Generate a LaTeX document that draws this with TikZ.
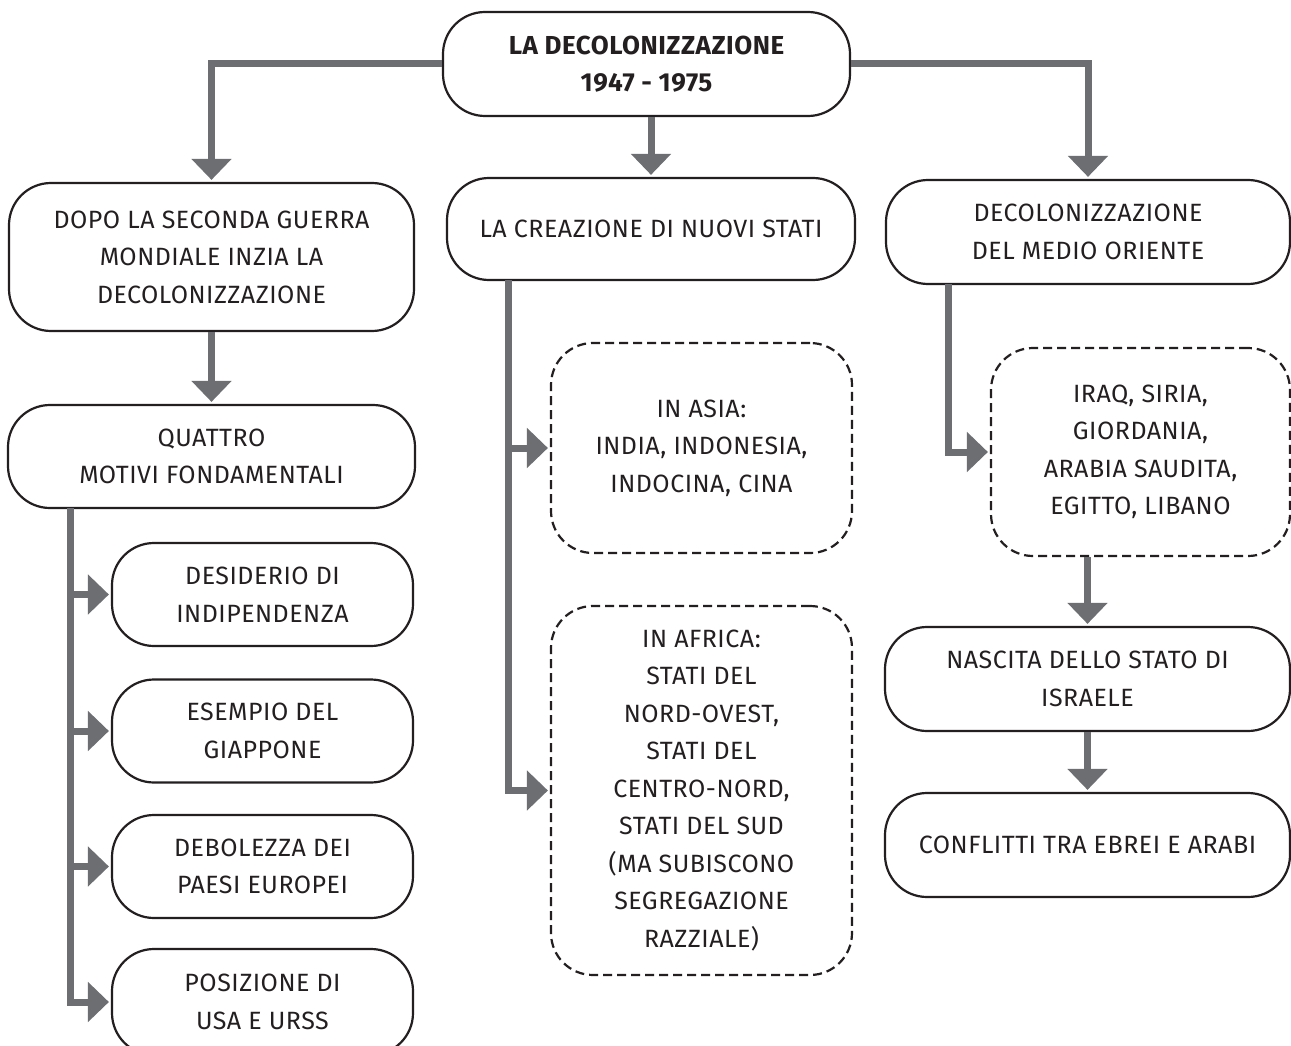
\documentclass[tikz,border=0pt]{standalone}
\usepackage{fontspec}
\setmainfont[LetterSpace=2]{Fira Sans}
\usetikzlibrary{arrows.meta}
\definecolor{arrowgray}{HTML}{6D6E71}
\definecolor{ink}{HTML}{231F20}
\tikzset{
  box/.style={draw=ink, line width=2.2pt, rounded corners=42pt, align=center,
    text=ink, inner sep=0pt, font=\fontsize{25}{37.5}\selectfont},
  dbox/.style={box, dash pattern=on 9pt off 5pt},
  conn/.style={draw=arrowgray, line width=7pt, line join=miter,
    -{Triangle[width=39pt,length=21pt]}, shorten >=2pt}
}
\begin{document}
\begin{tikzpicture}[x=1pt,y=-1pt]
\useasboundingbox[fill=white] (0,0) rectangle (1291,1046);

\node[box, minimum width=407pt, minimum height=104pt, font=\bfseries\fontsize{26}{37.5}\selectfont] (top) at (646.5,64) {LA DECOLONIZZAZIONE\\1947 - 1975};

\node[box, minimum width=405pt, minimum height=148pt] (b1) at (211.5,257) {DOPO LA SECONDA GUERRA\\MONDIALE INZIA LA\\DECOLONIZZAZIONE};
\node[box, minimum width=408pt, minimum height=102pt] (b2) at (651,229) {LA CREAZIONE DI NUOVI STATI};
\node[box, minimum width=404pt, minimum height=104pt] (b3) at (1088,232) {DECOLONIZZAZIONE\\DEL MEDIO ORIENTE};

\node[box, minimum width=407pt, minimum height=103pt] (q) at (211.5,456.5) {QUATTRO\\MOTIVI FONDAMENTALI};
\node[box, minimum width=301pt, minimum height=103pt] (d1) at (262.5,594.5) {DESIDERIO DI\\INDIPENDENZA};
\node[box, minimum width=301pt, minimum height=103pt] (d2) at (262.5,731) {ESEMPIO DEL\\GIAPPONE};
\node[box, minimum width=301pt, minimum height=103pt] (d3) at (262.5,866.5) {DEBOLEZZA DEI\\PAESI EUROPEI};
\node[box, minimum width=301pt, minimum height=106pt] (d4) at (262.5,1002) {POSIZIONE DI\\USA E URSS};

\node[dbox, minimum width=301pt, minimum height=210pt] (asia) at (701.5,448) {IN ASIA:\\INDIA, INDONESIA,\\INDOCINA, CINA};
\node[dbox, minimum width=301pt, minimum height=369pt] (africa) at (701.5,790.5) {IN AFRICA:\\STATI DEL\\NORD-OVEST,\\STATI DEL\\CENTRO-NORD,\\STATI DEL SUD\\(MA SUBISCONO\\SEGREGAZIONE\\RAZZIALE)};

\node[dbox, minimum width=299pt, minimum height=208pt] (iraq) at (1140.5,452) {IRAQ, SIRIA,\\GIORDANIA,\\ARABIA SAUDITA,\\EGITTO, LIBANO};
\node[box, minimum width=405pt, minimum height=104pt] (nascita) at (1087.5,679) {NASCITA DELLO STATO DI\\ISRAELE};
\node[box, minimum width=405pt, minimum height=104pt] (confl) at (1087.5,845) {CONFLITTI TRA EBREI E ARABI};

\coordinate (qs) at (70,508);
\coordinate (ms) at (508,280);
\coordinate (rs) at (948,284);

% top level
\draw[conn] (top.west) -| (b1.north);
\draw[conn] (top.east) -| (b3.north);
\draw[conn] (top.south -| b2.north) -- (b2.north);
% left column
\draw[conn] (b1.south) -- (q.north);
\draw[conn] (qs) |- (d4.west);
\draw[conn] (qs |- d1.west) -- (d1.west);
\draw[conn] (qs |- d2.west) -- (d2.west);
\draw[conn] (qs |- d3.west) -- (d3.west);
% middle column
\draw[conn] (ms) |- (africa.west);
\draw[conn] (ms |- asia.west) -- (asia.west);
% right column
\draw[conn] (rs) |- (iraq.west);
\draw[conn] (iraq.south -| nascita.north) -- (nascita.north);
\draw[conn] (nascita.south) -- (confl.north);
\end{tikzpicture}
\end{document}
